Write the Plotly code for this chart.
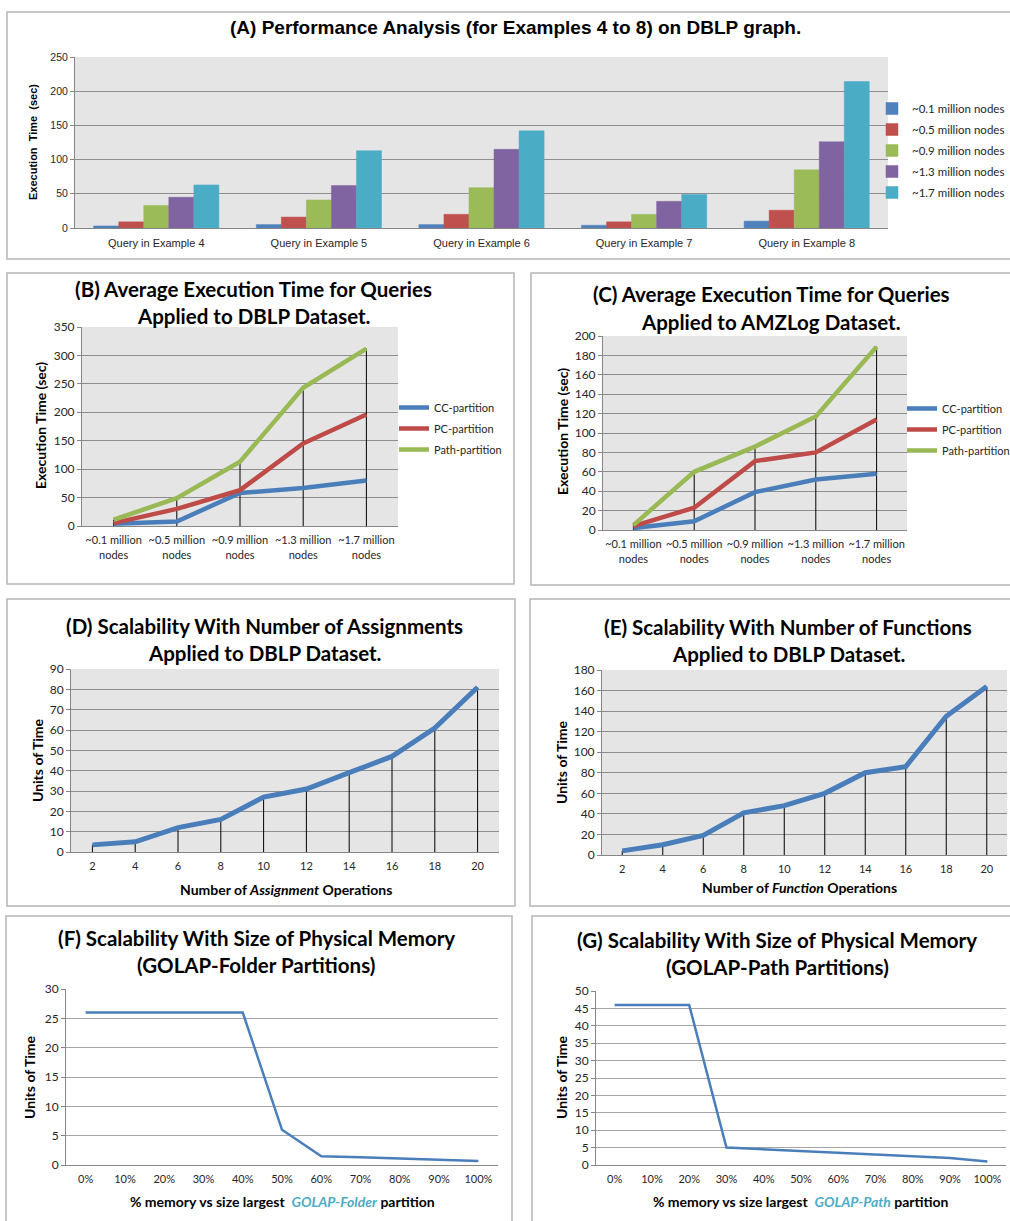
import plotly.graph_objects as go

W, H = 1010, 1221

# ---------------- data ----------------
a_queries = ["Query in Example 4", "Query in Example 5", "Query in Example 6",
             "Query in Example 7", "Query in Example 8"]
a_series = ["~0.1 million nodes", "~0.5 million nodes", "~0.9 million nodes",
            "~1.3 million nodes", "~1.7 million nodes"]
a_n01 = [3, 5, 5, 4, 10]
a_n05 = [9, 16, 20, 9, 26]
a_n09 = [33, 41, 59, 20, 85]
a_n13 = [45, 62, 115, 39, 126]
a_n17 = [63, 113, 142, 49, 214]

node_cats = ["~0.1 million<br>nodes", "~0.5 million<br>nodes", "~0.9 million<br>nodes",
             "~1.3 million<br>nodes", "~1.7 million<br>nodes"]
part_names = ["CC-partition", "PC-partition", "Path-partition"]
b_cc = [4, 8, 58, 67, 80]
b_pc = [5, 30, 63, 145, 196]
b_path = [11, 49, 113, 243, 312]

c_cc = [2, 9, 39, 52, 58]
c_pc = [4, 23, 71, 80, 114]
c_path = [5, 60, 86, 117, 189]

ops = ["2", "4", "6", "8", "10", "12", "14", "16", "18", "20"]
d_time = [3.5, 5, 12, 16, 27, 31, 39, 47, 61, 81]
e_time = [4, 10, 19, 41, 48, 60, 80, 86, 135, 164]

mem = ["0%", "10%", "20%", "30%", "40%", "50%", "60%", "70%", "80%", "90%", "100%"]
f_time = [26, 26, 26, 26, 26, 6, 1.5, 1.3, 1.1, 0.9, 0.7]
g_time = [46, 46, 46, 5, 4.5, 4, 3.5, 3, 2.5, 2, 1]

# ---------------- style ----------------
BLUE, RED, GREEN, PURPLE, CYAN = "#4f81bd", "#c0504d", "#9bbb59", "#8064a2", "#4bacc6"
LBLUE, LRED, LGREEN = "#4a7ebb", "#be4b48", "#98b954"
FONT = "Lato, 'Open Sans', sans-serif"
NARROW = "'Liberation Sans Narrow', 'Arial Narrow', 'Liberation Sans', sans-serif"
BG = "#e5e5e5"
GRID = "#8e8e8e"
AXC = "#868686"
TXT = "#262626"


def px_dom(x0, x1, y0, y1):
    return [x0 / W, x1 / W], [1 - y1 / H, 1 - y0 / H]


def px(x, y):
    return x / W, 1 - y / H


fig = go.Figure()

# ---------------- panel A (bars) ----------------
for name, vals, col in zip(a_series, [a_n01, a_n05, a_n09, a_n13, a_n17],
                           [BLUE, RED, GREEN, PURPLE, CYAN]):
    fig.add_trace(go.Bar(x=a_queries, y=vals, name=name, marker=dict(color=col,
                         line=dict(color=col, width=0.5)),
                         xaxis="x", yaxis="y", legend="legend", legendgroup=name))


def drop_lines(cats, tops, xa, ya):
    xs, ys = [], []
    for c, t in zip(cats, tops):
        xs += [c, c, None]
        ys += [0, t, None]
    return go.Scatter(x=xs, y=ys, mode="lines", line=dict(color="black", width=1),
                      xaxis=xa, yaxis=ya, showlegend=False, hoverinfo="skip")


# ---------------- panel B ----------------
fig.add_trace(drop_lines(node_cats, [max(v) for v in zip(b_cc, b_pc, b_path)], "x2", "y2"))
for name, vals, col in zip(part_names, [b_cc, b_pc, b_path], [LBLUE, LRED, LGREEN]):
    fig.add_trace(go.Scatter(x=node_cats, y=vals, name=name, mode="lines",
                             line=dict(color=col, width=4.5), xaxis="x2", yaxis="y2",
                             legend="legend2", legendgroup="b" + name))

# ---------------- panel C ----------------
fig.add_trace(drop_lines(node_cats, [max(v) for v in zip(c_cc, c_pc, c_path)], "x3", "y3"))
for name, vals, col in zip(part_names, [c_cc, c_pc, c_path], [LBLUE, LRED, LGREEN]):
    fig.add_trace(go.Scatter(x=node_cats, y=vals, name=name, mode="lines",
                             line=dict(color=col, width=4.5), xaxis="x3", yaxis="y3",
                             legend="legend3", legendgroup="c" + name))

# ---------------- panel D ----------------
fig.add_trace(drop_lines(ops, d_time, "x4", "y4"))
fig.add_trace(go.Scatter(x=ops, y=d_time, mode="lines", line=dict(color=LBLUE, width=5),
                         xaxis="x4", yaxis="y4", showlegend=False))

# ---------------- panel E ----------------
fig.add_trace(drop_lines(ops, e_time, "x5", "y5"))
fig.add_trace(go.Scatter(x=ops, y=e_time, mode="lines", line=dict(color=LBLUE, width=5),
                         xaxis="x5", yaxis="y5", showlegend=False))

# ---------------- panel F / G ----------------
fig.add_trace(go.Scatter(x=mem, y=f_time, mode="lines", line=dict(color=LBLUE, width=2.5),
                         xaxis="x6", yaxis="y6", showlegend=False))
fig.add_trace(go.Scatter(x=mem, y=g_time, mode="lines", line=dict(color=LBLUE, width=2.5),
                         xaxis="x7", yaxis="y7", showlegend=False))

# ---------------- axes ----------------
panels = {
    # id: (x0, x1, y0, y1, ymax, dtick, ncat, grey)
    "": (75, 888, 57, 228, 250, 50, 5, True),
    "2": (82, 398, 327, 526, 350, 50, 5, True),
    "3": (603, 907, 336, 530, 200, 20, 5, True),
    "4": (71, 499, 669, 852, 90, 10, 10, True),
    "5": (602, 1007, 670, 855, 180, 20, 10, True),
    "6": (66, 498, 989, 1165, 30, 5, 11, False),
    "7": (596, 1006, 991, 1165, 50, 5, 11, False),
}

layout = {}
shapes = []
for k, (x0, x1, y0, y1, ymax, dt, n, grey) in panels.items():
    dx, dy = px_dom(x0, x1, y0, y1)
    tfont = dict(family=NARROW if k == "" else FONT, size=11, color=TXT)
    layout["xaxis" + k] = dict(domain=dx, anchor="y" + k, type="category",
                               range=[-0.5, n - 0.5], showgrid=False, zeroline=False,
                               showline=True, linecolor=AXC, linewidth=1, ticks="",
                               tickfont=tfont, fixedrange=True,
                               ticklabelstandoff=4 if k != "" else 5)
    layout["yaxis" + k] = dict(domain=dy, anchor="x" + k, range=[0, ymax], dtick=dt,
                               showgrid=True, gridcolor=GRID if grey else "#a6a6a6",
                               gridwidth=1, zeroline=False, showline=True, linecolor=AXC,
                               ticks="outside", ticklen=4, tickcolor=AXC,
                               tickfont=dict(family=NARROW if k == "" else FONT,
                                             size=10.5 if k == "" else 12, color=TXT),
                               fixedrange=True)
    if grey:
        shapes.append(dict(type="rect", xref=("x" + k) + " domain", yref=("y" + k) + " domain",
                           x0=0, x1=1, y0=0, y1=1, fillcolor=BG, line=dict(width=0),
                           layer="below"))

# panel borders
for (bx0, by0, bx1, by1) in [(7, 12, 1015, 259), (7, 273, 514, 584), (531, 273, 1015, 585),
                             (7, 599, 515, 906), (530, 599, 1015, 906),
                             (6, 916, 512, 1230), (532, 916, 1015, 1230)]:
    xa, ya = px(bx0, by0)
    xb, yb = px(bx1, by1)
    shapes.append(dict(type="rect", xref="paper", yref="paper", x0=xa, x1=xb, y0=yb, y1=ya,
                       line=dict(color="#b5b5b5", width=1.5), fillcolor="rgba(0,0,0,0)"))

# ---------------- annotations ----------------
ann = []


def text(x, y, s, size, family=FONT, bold=True, angle=0, color="black", xanchor="center"):
    ax, ay = px(x, y)
    ann.append(dict(x=ax, y=ay, xref="paper", yref="paper", text=(f"<b>{s}</b>" if bold else s),
                    showarrow=False, xanchor=xanchor, yanchor="middle", textangle=angle,
                    font=dict(family=family, size=size, color=color)))


TS = 20.5
text(515, 28, "(A) Performance Analysis (for Examples 4 to 8) on DBLP graph.", 19, NARROW)
text(33, 142, "Execution  Time  (sec)", 11, "'Liberation Sans', Arial, sans-serif", angle=-90)

text(253, 289, "(B) Average Execution Time for Queries", TS)
text(253, 316, "Applied to DBLP Dataset.", TS)
text(40, 426, "Execution Time (sec)", 14, angle=-90)

text(771, 294, "(C) Average Execution Time for Queries", TS)
text(771, 322, "Applied to AMZLog Dataset.", TS)
text(562, 432, "Execution Time (sec)", 14, angle=-90)

text(264, 626, "(D) Scalability With Number of Assignments", TS)
text(264, 653, "Applied to DBLP Dataset.", TS)
text(37, 760, "Units of Time", 14, angle=-90)
text(286, 889, "Number of <i>Assignment</i> Operations", 14)

text(788, 627, "(E) Scalability With Number of Functions", TS)
text(788, 654, "Applied to DBLP Dataset.", TS)
text(561, 762, "Units of Time", 14, angle=-90)
text(799, 887, "Number of <i>Function</i> Operations", 14)

text(256, 938, "(F) Scalability With Size of Physical Memory", TS)
text(256, 965, "(GOLAP-Folder Partitions)", TS)
text(29, 1077, "Units of Time", 14, angle=-90)
text(282, 1201, "% memory vs size largest  <i><span style='color:#4bacc6'>GOLAP-Folder</span></i> partition", 14)

text(777, 940, "(G) Scalability With Size of Physical Memory", TS)
text(777, 967, "(GOLAP-Path Partitions)", TS)
text(561, 1077, "Units of Time", 14, angle=-90)
text(801, 1201, "% memory vs size largest  <i><span style='color:#4bacc6'>GOLAP-Path</span></i> partition", 14)

# ---------------- legends ----------------
lx, ly = px(872, 94)
layout["legend"] = dict(x=lx, y=ly, xanchor="left", yanchor="top", bgcolor="rgba(0,0,0,0)",
                        font=dict(family=FONT, size=11.5, color=TXT), tracegroupgap=2,
                        itemwidth=30)
lx, ly = px(394, 393)
layout["legend2"] = dict(x=lx, y=ly, xanchor="left", yanchor="top", bgcolor="rgba(0,0,0,0)",
                         font=dict(family=FONT, size=11, color=TXT), tracegroupgap=2,
                         itemwidth=30)
lx, ly = px(902, 394)
layout["legend3"] = dict(x=lx, y=ly, xanchor="left", yanchor="top", bgcolor="rgba(0,0,0,0)",
                         font=dict(family=FONT, size=11, color=TXT), tracegroupgap=2,
                         itemwidth=30)

fig.update_layout(
    width=W, height=H, autosize=False,
    margin=dict(l=0, r=0, t=0, b=0, pad=0, autoexpand=False),
    paper_bgcolor="white", plot_bgcolor="white",
    barmode="group", bargap=0.23, bargroupgap=0,
    shapes=shapes, annotations=ann, showlegend=True,
    **layout,
)

fig.write_html(
    "out.html",
    config={"displayModeBar": False},
    post_script="document.documentElement.style.margin='0';"
                "document.body.style.margin='0';"
                "document.documentElement.style.overflow='hidden';"
                "document.body.style.overflow='hidden';"
                "var gd=document.getElementById('{plot_id}');"
                "gd.style.position='fixed';gd.style.left='0px';gd.style.top='0px';",
)
